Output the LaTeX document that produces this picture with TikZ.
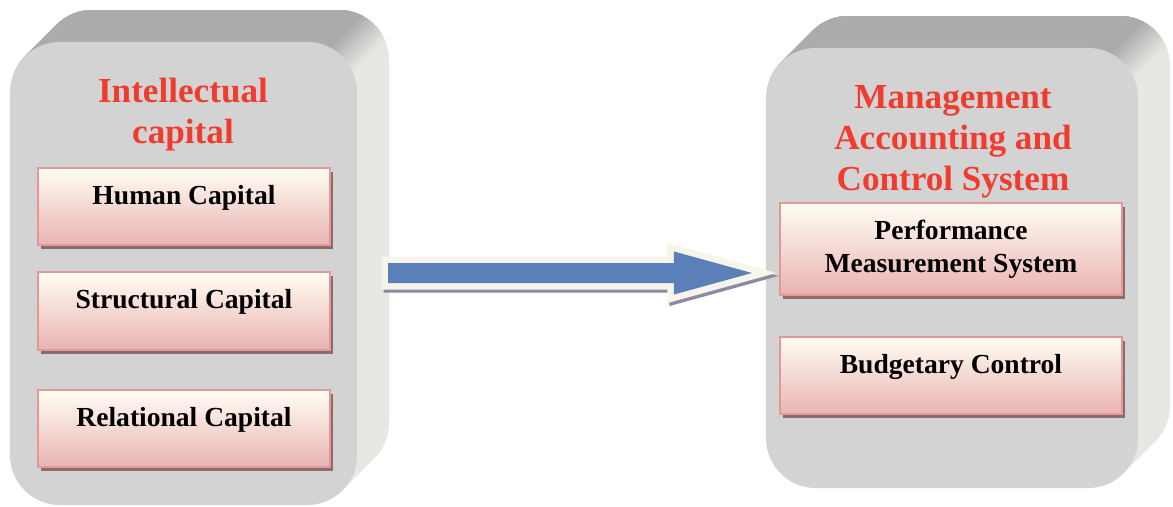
\documentclass[tikz,border=0pt]{standalone}
\usepackage{fontspec}
\setmainfont{Liberation Serif}
\usetikzlibrary{calc,shadows}

\definecolor{slabfront}{HTML}{D3D3D3}
\definecolor{slabtop}{HTML}{ABABAB}
\definecolor{slabside}{HTML}{E7E7E3}
\definecolor{boxtop}{HTML}{FFFEF3}
\definecolor{boxbottom}{HTML}{E9B3B3}
\definecolor{boxedge}{HTML}{E39797}
\definecolor{boxshade}{HTML}{8E6B6B}
\definecolor{titlered}{HTML}{F03C2E}
\definecolor{flowblue}{HTML}{5B7FB8}
\definecolor{flowedge}{HTML}{F7F4EA}
\definecolor{flowshade}{HTML}{8B8AA2}

\tikzset{
  slabface/.style={rectangle, rounded corners=1.25cm, fill=slabfront, inner sep=0pt},
  title/.style={text=titlered, font=\fontsize{25}{29.2}\selectfont\bfseries, align=center},
  capbox/.style={rectangle, draw=boxedge, line width=0.05cm, top color=boxtop, bottom color=boxbottom,
    drop shadow={shadow xshift=0.075cm, shadow yshift=-0.1cm, fill=boxshade, opacity=1},
    font=\fontsize{19.6}{23.5}\selectfont\bfseries, inner sep=0pt},
  onebox/.style={capbox, text height=0.45cm, text depth=0.575cm},
  flowframe/.style={line width=0.325cm, line join=miter},
}

% extruded back of a slab: front corners (#1,#2)-(#3,#4), top/side seam at x+y=#5
\newcommand{\greyslab}[5]{%
  \begin{scope}
    \clip[rounded corners=1.25cm] foreach \d in {1,...,32} {(#1+\d,#2-\d) rectangle (#3+\d,#4-\d)};
    \fill[slabside] (-200,-200) rectangle (1400,800);
    % soft seam between the top and the side
    \foreach \k [evaluate=\k as \p using int(12*\k)] in {8,7,...,0}
      \fill[slabside!\p!slabtop] (-200,-200) -- (#5-20+6*\k+200,-200) -- (-200,#5-20+6*\k+200) -- cycle;
  \end{scope}}

% outline of the block arrow
\newcommand{\flowoutline}{($(flowtail)+(0,-10)$) -- ($(flowtip)+(-78,-10)$) -- ($(flowtip)+(-78,-21.5)$)
  -- (flowtip) -- ($(flowtip)+(-78,21.5)$) -- ($(flowtip)+(-78,10)$) -- ($(flowtail)+(0,10)$) -- cycle}

\begin{document}
\begin{tikzpicture}[x=0.025cm, y=-0.025cm]
\useasboundingbox[fill=white] (0,0) rectangle (1173,507);

% the two slabs
\greyslab{10}{42}{357}{505}{399}
\greyslab{766}{48}{1138}{488}{1186}
\node[slabface, minimum width=8.675cm, minimum height=11.575cm] (ic) at (183.5,273.5) {};
\node[slabface, minimum width=9.3cm, minimum height=11cm] (macs) at (952,268) {};

\node[title] (ictitle) at (183,115) {Intellectual\\capital};
\node[title] (macstitle) at (953,142) {Management\\Accounting and\\Control System};

% components
\node[onebox, minimum width=7.3cm, minimum height=1.925cm] (human) at (184,206.5) {Human Capital};
\node[onebox, minimum width=7.3cm, minimum height=1.925cm] (structural) at (184,311) {Structural Capital};
\node[onebox, minimum width=7.3cm, minimum height=1.925cm] (relational) at (184,428.5) {Relational Capital};
\node[capbox, align=center, minimum width=8.55cm, minimum height=2.3cm] (perf) at (951,249) {Performance\\Measurement System};
\node[onebox, minimum width=8.55cm, minimum height=1.925cm] (budget) at (951,375.5) {Budgetary Control};

% block arrow
\coordinate (flowtail) at (388,273);
\coordinate (flowtip) at ($(perf.west |- flowtail)+(-27,0)$);
\begin{scope}[transform canvas={shift={(0.05cm,-0.075cm)}}]
\draw[flowframe, flowshade] \flowoutline;
\end{scope}
\draw[flowframe, flowedge] \flowoutline;
\fill[flowblue] \flowoutline;

\end{tikzpicture}
\end{document}
